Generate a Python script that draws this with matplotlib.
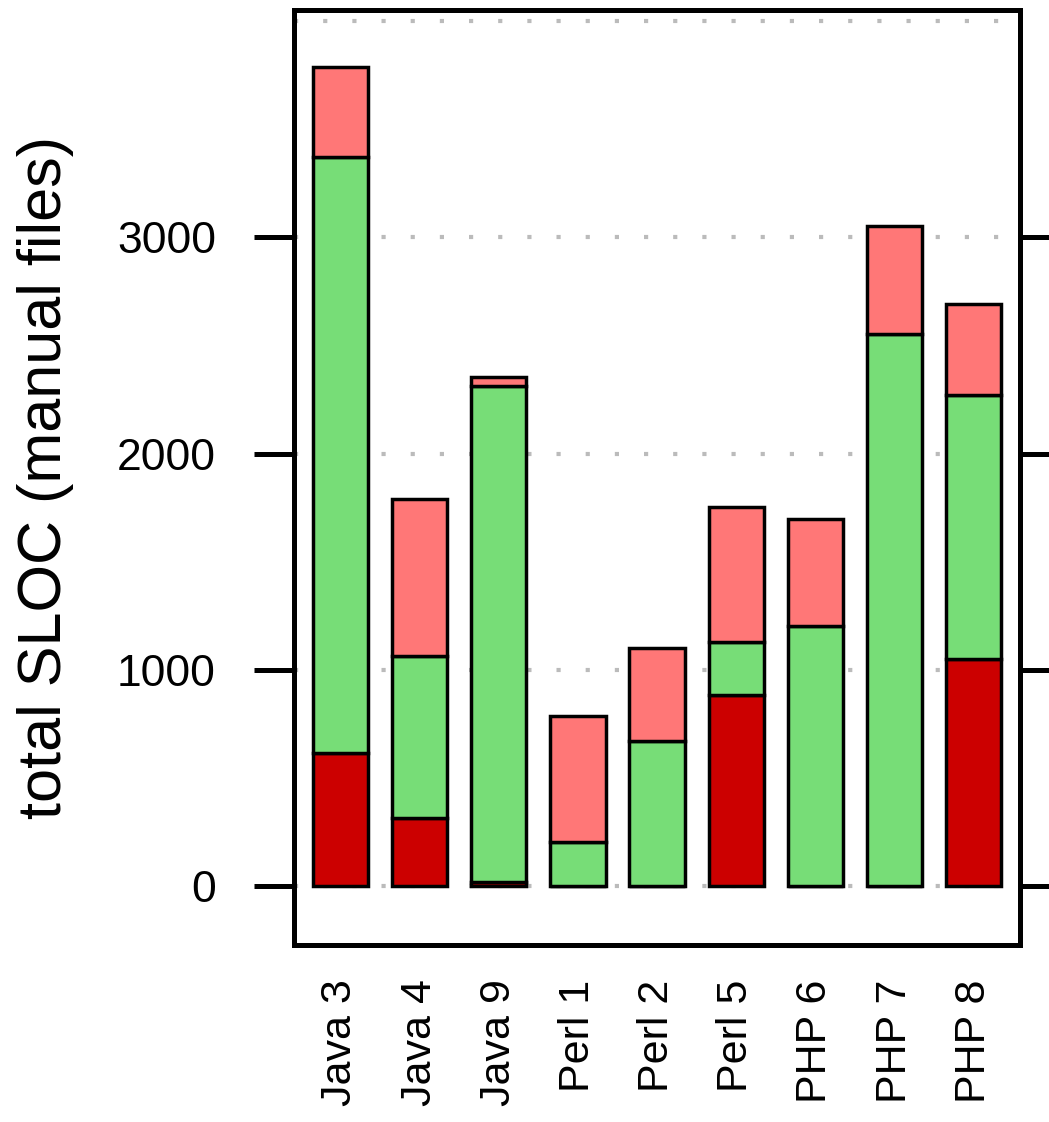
import numpy as np
import matplotlib.pyplot as plt

labels = ["Java 3", "Java 4", "Java 9", "Perl 1", "Perl 2", "Perl 5", "PHP 6", "PHP 7", "PHP 8"]
dark = [615, 314, 20, 0, 0, 883, 0, 0, 1049]
green = [2755, 749, 2292, 203, 670, 245, 1202, 2552, 1221]
pink = [416, 726, 41, 583, 430, 624, 495, 499, 421]

plt.rcParams['font.family'] = ['Liberation Sans', 'DejaVu Sans']

fig = plt.figure(figsize=(10.49, 11.22), dpi=100)
ax = fig.add_axes([0.280, 0.158, 0.692, 0.833])

x = np.arange(len(labels))
dark = np.array(dark)
green = np.array(green)
pink = np.array(pink)

# dotted grid behind the bars
for g in [0, 1000, 2000, 3000, 4000]:
    ax.axhline(g, color="#bbbbbb", lw=3, ls=(0, (1, 6)), zorder=0)

kw = dict(width=0.7, edgecolor="black", linewidth=2.5, zorder=2)
ax.bar(x, dark, color="#cc0000", **kw)
ax.bar(x, green, bottom=dark, color="#77dd77", **kw)
ax.bar(x, pink, bottom=dark + green, color="#ff7777", **kw)

ax.set_xlim(-0.59, 8.58)
ax.set_ylim(-270, 4050)
ax.set_yticks([0, 1000, 2000, 3000])
ax.set_xticks(x)
ax.set_xticklabels(labels, rotation=90, fontsize=31, va="top")
ax.tick_params(axis="x", length=0, pad=25)
ax.tick_params(axis="y", direction="out", length=29, width=3.6, labelsize=32,
               pad=27, right=True, labelright=False)
for s in ax.spines.values():
    s.set_linewidth(3.6)

ax.set_ylabel("total SLOC (manual files)", fontsize=44)
ax.yaxis.set_label_coords(-0.302, 0.5)

fig.savefig("out.png", dpi=100)
